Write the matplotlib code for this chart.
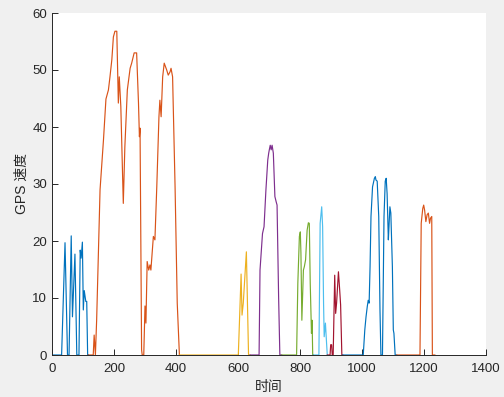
import matplotlib
matplotlib.use("Agg")
import matplotlib.pyplot as plt

plt.rcParams['font.family'] = ['Liberation Sans', 'Noto Sans CJK SC', 'DejaVu Sans']

# segment data (time, speed), MATLAB default colour order
seg1_x = [0, 31, 42, 50, 55, 62, 66, 74, 80, 87, 91, 94, 98, 101, 104, 109, 112, 115, 117]
seg1_y = [0, 0, 19.7, 0, 0, 20.9, 6.7, 17.7, 0, 0, 18.4, 17.0, 19.8, 7.9, 11.3, 9.4, 9.4, 0, 0]

seg2_x = [117, 133, 136, 140, 144, 155, 166, 174, 182, 187, 193, 198, 203, 209, 214, 217, 222,
          230, 235, 243, 252, 257, 265, 273, 279, 282, 284, 289, 291, 296, 300, 303, 307, 312,
          316, 319, 327, 332, 338, 345, 348, 352, 357, 362, 370, 375, 381, 384, 389, 397, 404, 411]
seg2_y = [0, 0, 3.5, 0, 6.1, 29.0, 37.7, 44.9, 46.5, 48.8, 51.8, 55.8, 56.8, 56.8, 44.2, 48.8, 43.6,
          26.6, 36.5, 46.5, 50.3, 51.2, 53.0, 53.0, 44.2, 38.3, 39.8, 0.9, 0, 0, 8.6, 5.6, 16.4, 14.9,
          15.8, 14.9, 20.8, 20.2, 29.5, 41.8, 44.7, 41.8, 48.8, 51.2, 50.0, 49.1, 49.7, 50.3, 48.8, 29.5, 9.1, 0]

seg3_x = [411, 601, 610, 613, 617, 627, 634, 639]
seg3_y = [0, 0, 14.2, 7.0, 9.1, 18.1, 0, 0]

seg4_x = [639, 668, 671, 679, 684, 690, 696, 699, 701, 704, 707, 710, 714, 719, 723, 726, 731, 735, 741]
seg4_y = [0, 0, 14.9, 21.3, 22.5, 28.9, 34.2, 35.4, 36.0, 36.8, 36.0, 36.8, 35.4, 27.8, 26.9, 26.3, 10.2, 0, 0]

seg5_x = [741, 789, 793, 798, 801, 803, 806, 811, 814, 818, 823, 827, 830, 833, 837, 839, 841, 843]
seg5_y = [0, 0, 12.6, 20.8, 21.6, 17.9, 6.1, 14.9, 15.5, 16.7, 21.9, 23.2, 23.1, 12.6, 3.8, 6.1, 0, 0]

seg6_x = [843, 861, 865, 870, 873, 876, 878, 882, 886, 888]
seg6_y = [0, 0, 23.1, 26.0, 22.5, 9.1, 3.2, 5.6, 1.8, 0]

seg7_x = [888, 897, 899, 902, 904, 907, 912, 915, 918, 924, 928, 931, 935, 938]
seg7_y = [0, 0, 1.8, 1.8, 0, 0, 14.0, 7.3, 9.1, 14.6, 11.4, 8.8, 0, 0]

seg8_x = [938, 1004, 1009, 1013, 1017, 1020, 1023, 1026, 1029, 1034, 1040, 1043, 1045, 1049, 1054,
          1058, 1061, 1066, 1071, 1075, 1078, 1081, 1085, 1087, 1090, 1093, 1098, 1101, 1103, 1107, 1112]
seg8_y = [0, 0, 4.4, 6.7, 8.5, 9.6, 9.1, 15.5, 24.3, 29.5, 31.0, 31.3, 30.7, 30.5, 24.3,
          7.9, 0, 0, 24.3, 30.5, 31.0, 28.3, 20.2, 22.5, 26.0, 24.9, 15.5, 4.4, 3.8, 0, 0]

seg9_x = [1112, 1187, 1191, 1196, 1199, 1202, 1206, 1210, 1214, 1218, 1221, 1225, 1227, 1235]
seg9_y = [0, 0, 23.1, 25.7, 26.3, 25.4, 23.4, 24.6, 24.9, 23.1, 24.0, 24.3, 0, 0]

segments = [(seg1_x, seg1_y), (seg2_x, seg2_y), (seg3_x, seg3_y), (seg4_x, seg4_y),
            (seg5_x, seg5_y), (seg6_x, seg6_y), (seg7_x, seg7_y), (seg8_x, seg8_y),
            (seg9_x, seg9_y)]
colors = ['#0072BD', '#D95319', '#EDB120', '#7E2F8E', '#77AC30', '#4DBEEE', '#A2142F',
          '#0072BD', '#D95319']

x_ticks = [0, 200, 400, 600, 800, 1000, 1200, 1400]
y_ticks = [0, 10, 20, 30, 40, 50, 60]

fig = plt.figure(figsize=(5.04, 3.97), dpi=100, facecolor='#f0f0f0')
ax = fig.add_axes([52/504, 42/397, 434/504, 342/397])
ax.set_facecolor('white')

for (xs, ys), c in zip(segments, colors):
    ax.plot(xs, ys, color=c, lw=0.85)

ax.set_xlim(0, 1400)
ax.set_ylim(0, 60)
ax.set_xticks(x_ticks)
ax.set_yticks(y_ticks)
for s in ['top', 'right']:
    ax.spines[s].set_visible(False)
for s in ['left', 'bottom']:
    ax.spines[s].set_color('#262626')
    ax.spines[s].set_linewidth(0.7)
ax.tick_params(direction='in', length=4, width=0.7, colors='#262626', labelsize=9.5)
ax.tick_params(axis='x', pad=6)
ax.tick_params(axis='y', pad=3.5)
ax.set_xlabel('时间', fontsize=10, color='#262626', labelpad=3)
ax.set_ylabel('GPS 速度', fontsize=10, color='#262626', labelpad=2.5)

fig.savefig('out.png', dpi=100, facecolor=fig.get_facecolor())
